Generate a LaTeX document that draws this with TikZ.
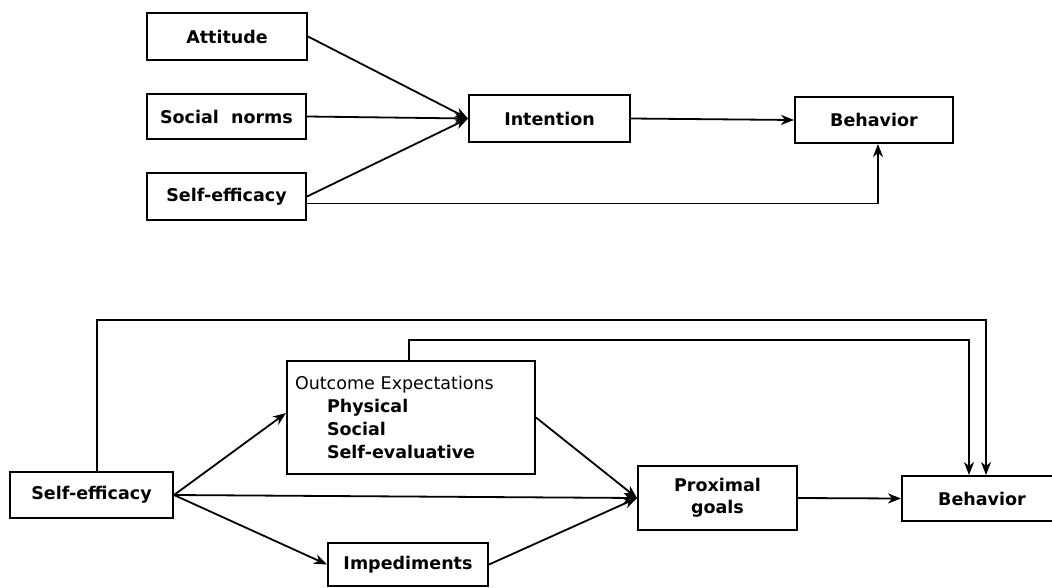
\documentclass[tikz,border=0pt]{standalone}
\usepackage{fontspec}
\setmainfont{DejaVu Sans}
\usetikzlibrary{arrows.meta}
\begin{document}
\begin{tikzpicture}[x=1pt,y=-1pt,
  box/.style={draw,line width=2pt,inner sep=0pt,font=\fontsize{17.5}{22}\selectfont\bfseries},
  arr/.style={line width=1.8pt,-{Stealth[length=13pt,width=10pt,inset=4pt]}}]
\useasboundingbox (0,0) rectangle (1052,587);
% top diagram
\node[box,minimum width=160pt,minimum height=47pt] (att) at (227,36.5) {Attitude};
\node[box,minimum width=159pt,minimum height=45pt] (sn) at (226.5,116.5) {Social\ \ norms};
\node[box,minimum width=159pt,minimum height=47pt] (se1) at (226.5,196.5) {Self-efficacy};
\node[box,minimum width=161pt,minimum height=47pt] (int) at (549.5,118.5) {Intention};
\node[box,minimum width=158pt,minimum height=46pt] (beh1) at (874,120) {Behavior};
\draw[arr] (att.east) -- (int.west);
\draw[arr] (sn.east) -- (int.west);
\draw[arr] (se1.east) -- (int.west);
\draw[arr] (int.east) -- (beh1.west);
\draw[arr] ([yshift=-7pt]se1.east) -| ([xshift=4pt]beh1.south);
% bottom diagram
\node[box,minimum width=163pt,minimum height=46pt] (se2) at (91.5,495) {Self-efficacy};
\node[box,minimum width=248pt,minimum height=113pt,align=left,text width=232pt,
      font=\fontsize{17.5}{23.3}\selectfont\bfseries] (oe) at (411,417.5)
  {{\mdseries Outcome Expectations}\\
   \hspace*{32pt}Physical\\
   \hspace*{32pt}Social\\
   \hspace*{32pt}Self-evaluative};
\node[box,minimum width=160pt,minimum height=43pt] (imp) at (408,564.5) {Impediments};
\node[box,minimum width=159pt,minimum height=64pt,align=center] (pg) at (717.5,498) {Proximal\\goals};
\node[box,minimum width=160pt,minimum height=45pt] (beh2) at (982,498.5) {Behavior};
\draw[arr] (se2.east) -- ([yshift=4.5pt]oe.west);
\draw[arr] (se2.east) -- (pg.west);
\draw[arr] (se2.east) -- (imp.west);
\draw[arr] (oe.east) -- (pg.west);
\draw[arr] (imp.east) -- (pg.west);
\draw[arr] (pg.east) -- (beh2.west);
\draw[arr] ([xshift=5.5pt]se2.north) -- ++(0,-151) -| ([xshift=4pt]beh2.north);
\draw[arr] ([xshift=-2pt]oe.north) -- ++(0,-20) -| ([xshift=-13pt]beh2.north);
\end{tikzpicture}
\end{document}
